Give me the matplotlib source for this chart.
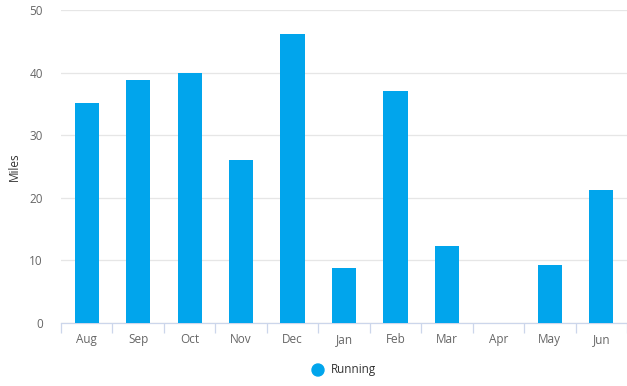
import matplotlib.pyplot as plt
import numpy as np

plt.rcParams['font.family'] = ['Open Sans', 'DejaVu Sans']

months = ['Aug', 'Sep', 'Oct', 'Nov', 'Dec', 'Jan', 'Feb', 'Mar', 'Apr', 'May', 'Jun']
miles = [35.2, 38.9, 40.0, 26.1, 46.2, 8.8, 37.0, 12.3, 0, 9.3, 21.3]

bar_color = '#01a5ec'
text_color = '#666666'

fig = plt.figure(figsize=(6.27, 3.86), dpi=100)
ax = fig.add_axes([0.0973, 0.163, 0.9027, 0.811])

x = np.arange(len(months))
ax.bar(x, miles, width=0.47, color=bar_color, zorder=3)

ax.set_xlim(-0.5, len(months) - 0.5)
ax.set_ylim(0, 50)
ax.set_yticks(range(0, 51, 10))
ax.yaxis.grid(True, color='#e6e6e6', lw=0.9, zorder=0)
ax.tick_params(axis='y', length=0, labelsize=8.5, labelcolor=text_color, pad=13)

# category labels centered, tick marks on category boundaries
ax.set_xticks(x)
ax.set_xticklabels(months)
ax.tick_params(axis='x', which='major', length=0, labelsize=8.5, labelcolor=text_color, pad=7)
ax.set_xticks(np.arange(-0.5, len(months)), minor=True)
ax.tick_params(axis='x', which='minor', length=7, color='#ccd6eb', width=0.9)

for s in ['top', 'right', 'left']:
    ax.spines[s].set_visible(False)
ax.spines['bottom'].set_color('#ccd6eb')
ax.spines['bottom'].set_linewidth(0.9)

ax.set_ylabel('Miles', fontsize=8.5, color='#333333', labelpad=6)

# legend (drawn by hand, centered under the plot)
fig.text(331 / 627, 16 / 386, 'Running', fontsize=8.5, color='#333333', va='center', ha='left')
fig.patches.append(plt.Circle((318, 16), 6, color=bar_color, transform=None, figure=fig))

fig.savefig('out.png', dpi=100)
